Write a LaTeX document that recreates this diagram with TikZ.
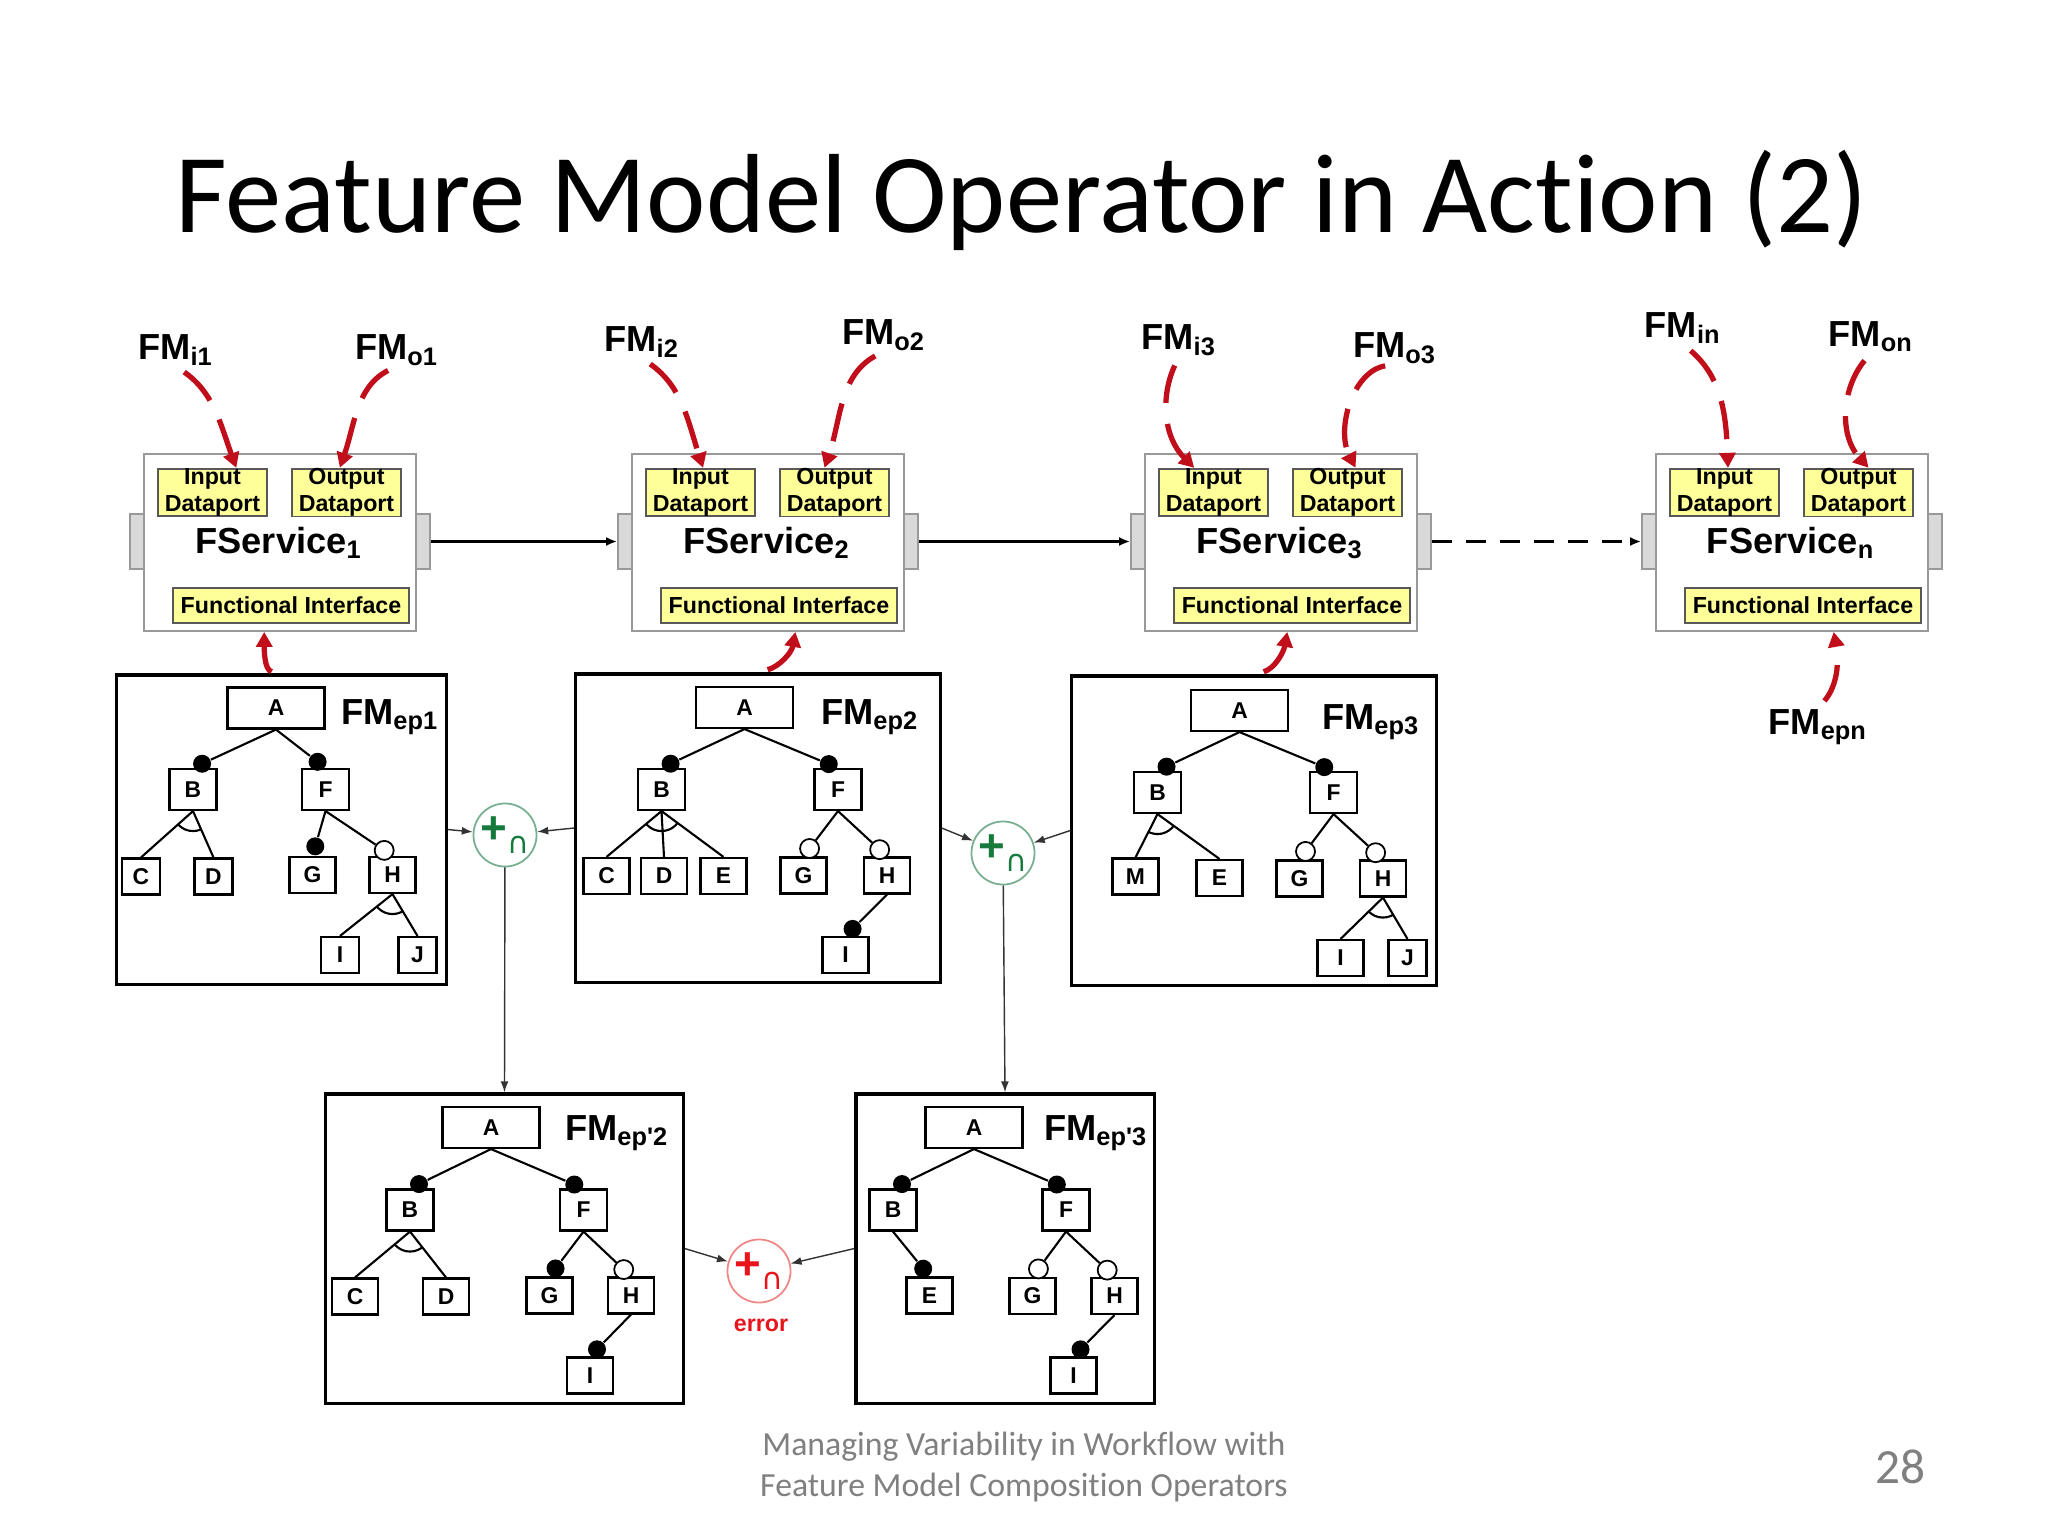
\documentclass[tikz,border=0pt]{standalone}
\usepackage{fontspec}
\setmainfont{Liberation Sans}
\newfontfamily\slidefont[Ligatures=NoCommon]{Carlito}
\newfontfamily\opsymfont{DejaVu Sans}
\usetikzlibrary{arrows.meta, calc}

\definecolor{portyellow}{RGB}{255,255,153}
\definecolor{fmred}{RGB}{192,14,26}
\definecolor{opgreen}{RGB}{22,122,60}
\definecolor{opgreenline}{RGB}{120,175,145}
\definecolor{opred}{RGB}{232,20,28}
\definecolor{opredline}{RGB}{240,135,135}
\definecolor{footgray}{RGB}{128,128,128}

\tikzset{
  svc/.style={
    rectangle,
    draw=black!40,
    fill=white,
    line width=0.5pt,
    minimum width=2.72cm,
    minimum height=1.77cm,
    inner sep=0
  },
  svctab/.style={
    rectangle,
    draw=black!40,
    fill=black!15,
    line width=0.5pt,
    minimum width=0.14cm,
    minimum height=0.55cm,
    inner sep=0
  },
  port/.style={
    rectangle,
    draw=black!65,
    fill=portyellow,
    line width=0.5pt,
    minimum width=1.09cm,
    minimum height=0.47cm,
    inner sep=0,
    align=center,
    font=\fontsize{6.6}{7.6}\selectfont\bfseries
  },
  iface/.style={port, minimum width=2.36cm, minimum height=0.35cm},
  svcname/.style={font=\fontsize{10.3}{12}\selectfont\bfseries, inner sep=0},
  fmlabel/.style={font=\fontsize{10.3}{12}\selectfont\bfseries, inner sep=0},
  fmbox/.style={rectangle, draw, line width=0.9pt, inner sep=0},
  feat/.style={
    rectangle,
    draw,
    fill=white,
    line width=0.6pt,
    minimum width=0.46cm,
    minimum height=0.36cm,
    inner sep=0,
    font=\fontsize{6.5}{7}\selectfont\bfseries
  },
  narrowfeat/.style={feat, minimum width=0.38cm},
  midfeat/.style={feat, minimum width=0.47cm, minimum height=0.41cm},
  rootfeat/.style={feat, minimum width=0.97cm, minimum height=0.41cm},
  mand/.style={circle, fill=black, inner sep=0, minimum size=1.8mm},
  opt/.style={circle, draw, fill=white, line width=0.5pt, inner sep=0, minimum size=1.9mm},
  tree/.style={line width=0.6pt},
  fmarrow/.style={-{Triangle[length=1.5mm, width=1.6mm]}, draw=fmred, line width=1.5pt, dash pattern=on 11pt off 6pt, shorten <=1mm},
  flow/.style={-{Latex[length=1.1mm, width=0.9mm]}, line width=0.8pt},
  opnode/.style={circle, draw=opgreenline, text=opgreen, line width=0.5pt, minimum size=0.63cm, inner sep=0},
  errnode/.style={opnode, draw=opredline, text=opred},
  oparrow/.style={-{Latex[length=1.1mm, width=0.8mm]}, draw=black!80, line width=0.4pt}
}

\begin{document}
\begin{tikzpicture}[x=0.01cm,y=-0.01cm]
\fill[white] (0,0) rectangle (2048,1536);
\useasboundingbox (0,0) rectangle (2048,1536);

\node[font=\slidefont\fontsize{32}{38}\selectfont, anchor=base] (title) at (1022,232) {Feature Model Operator in Action (2)};

% services
\node[svc] (fs1) at (280,542.5) {};
\node[svctab] (fs1-l) at (137,541.5) {};
\node[svctab] (fs1-r) at (423,541.5) {};
\node[port] (fs1-in) at (212.5,492.5) {Input\\Dataport};
\node[port] (fs1-out) at (346.5,492.5) {Output\\Dataport};
\node[svcname] (fs1-t) at (279,543) {FService\textsubscript{1}};
\node[iface] (fs1-fi) at (291,605.5) {Functional Interface};

\node[svc] (fs2) at (768,542.5) {};
\node[svctab] (fs2-l) at (625,541.5) {};
\node[svctab] (fs2-r) at (911,541.5) {};
\node[port] (fs2-in) at (700.5,492.5) {Input\\Dataport};
\node[port] (fs2-out) at (834.5,492.5) {Output\\Dataport};
\node[svcname] (fs2-t) at (767,543) {FService\textsubscript{2}};
\node[iface] (fs2-fi) at (779,605.5) {Functional Interface};

\node[svc] (fs3) at (1281,542.5) {};
\node[svctab] (fs3-l) at (1138,541.5) {};
\node[svctab] (fs3-r) at (1424,541.5) {};
\node[port] (fs3-in) at (1213.5,492.5) {Input\\Dataport};
\node[port] (fs3-out) at (1347.5,492.5) {Output\\Dataport};
\node[svcname] (fs3-t) at (1280,543) {FService\textsubscript{3}};
\node[iface] (fs3-fi) at (1292,605.5) {Functional Interface};

\node[svc] (fsn) at (1792,542.5) {};
\node[svctab] (fsn-l) at (1649,541.5) {};
\node[svctab] (fsn-r) at (1935,541.5) {};
\node[port] (fsn-in) at (1724.5,492.5) {Input\\Dataport};
\node[port] (fsn-out) at (1858.5,492.5) {Output\\Dataport};
\node[svcname] (fsn-t) at (1791,543) {FService\textsubscript{n}};
\node[iface] (fsn-fi) at (1803,605.5) {Functional Interface};

\draw[flow] (fs1-r) -- (fs2-l);
\draw[flow] (fs2-r) -- (fs3-l);
\draw[flow, dash pattern=on 0.2cm off 0.14cm] (fs3-r) -- (fsn-l);

% dataport models
\node[fmlabel] (fmi1) at (176,350) {FM\textsubscript{i1}};
\node[fmlabel] (fmo1) at (397,350) {FM\textsubscript{o1}};
\node[fmlabel] (fmi2) at (642,342) {FM\textsubscript{i2}};
\node[fmlabel] (fmo2) at (884,335) {FM\textsubscript{o2}};
\node[fmlabel] (fmi3) at (1179,340) {FM\textsubscript{i3}};
\node[fmlabel] (fmo3) at (1395,348) {FM\textsubscript{o3}};
\node[fmlabel] (fmin) at (1683,328) {FM\textsubscript{in}};
\node[fmlabel] (fmon) at (1871,337) {FM\textsubscript{on}};
\node[fmlabel] (fmepn) at (1818,727) {FM\textsubscript{epn}};

\draw[fmarrow] (fmi1.south) to[out=-35,in=110] (fs1-in.46);
\draw[fmarrow] (fmo1.south) to[out=207,in=71] (fs1-out.105);
\draw[fmarrow] (fmi2.south) to[out=-35,in=108] (fs2-in.84);
\draw[fmarrow] (fmo2.south) to[out=209,in=71] (fs2-out.112);
\draw[fmarrow] (fmi3.south) to[out=-115,in=135] (fs3-in.128);
\draw[fmarrow] (fmo3.south) to[out=190,in=117] (fs3-out.72);
\draw[fmarrow] (fmin.south) to[out=-40,in=92] (fsn-in.82);
\draw[fmarrow] (fmon.south) to[out=230,in=132] (fsn-out.68);
\draw[fmarrow] (fmepn.north) to[out=50,in=-80] (fsn.-65);

% FM_ep1
\node[fmbox, minimum width=3.29cm, minimum height=3.09cm] (ep1) at (281.5,829.5) {};
\node[fmlabel] (ep1-lbl) at (390,717) {FM\textsubscript{ep1}};
\node[rootfeat] (p1a) at (276,708) {A};
\node[midfeat] (p1b) at (193,789.5) {B};
\node[midfeat] (p1f) at (325.5,789.5) {F};
\node[narrowfeat] (p1c) at (141,876.5) {C};
\node[narrowfeat] (p1d) at (213.5,876.5) {D};
\node[feat] (p1g) at (312.5,875) {G};
\node[feat] (p1h) at (392.5,875) {H};
\node[narrowfeat] (p1i) at (340,955) {I};
\node[narrowfeat] (p1j) at (417.5,955) {J};
\node[mand] (p1bm) at ($(p1b.north)!1mm!(p1a.south)$) {};
\node[mand] (p1fm) at ($(p1f.north)!1mm!(p1a.south)$) {};
\node[mand] (p1gm) at ($(p1g.north)!1mm!(p1f.south)$) {};
\node[opt] (p1ho) at ($(p1h.north)!1mm!(p1f.south)$) {};
\draw[tree] (p1a.south) -- (p1bm) (p1a.south) -- (p1fm) (p1f.south) -- (p1gm) (p1f.south) -- (p1ho);
\draw[tree] (p1b.south) -- (p1c.north) (p1b.south) -- (p1d.north) (p1h.south) -- (p1i.north) (p1h.south) -- (p1j.north);
\begin{scope} \clip (p1b.south) -- (p1c.north) -- (p1d.north) -- cycle; \draw[tree] (p1b.south) circle[radius=20]; \end{scope}
\begin{scope} \clip (p1h.south) -- (p1i.north) -- (p1j.north) -- cycle; \draw[tree] (p1h.south) circle[radius=20]; \end{scope}

% FM_ep2
\node[fmbox, minimum width=3.64cm, minimum height=3.08cm] (ep2) at (758,828) {};
\node[fmlabel] (ep2-lbl) at (870,717) {FM\textsubscript{ep2}};
\node[rootfeat] (p2a) at (744.5,707.5) {A};
\node[midfeat] (p2b) at (661.5,789.5) {B};
\node[midfeat] (p2f) at (838,789.5) {F};
\node[feat] (p2c) at (606.5,876) {C};
\node[feat] (p2d) at (664,876) {D};
\node[feat] (p2e) at (723.5,876) {E};
\node[feat] (p2g) at (803.5,875.5) {G};
\node[feat] (p2h) at (887,875.5) {H};
\node[feat] (p2i) at (845.5,955) {I};
\node[mand] (p2bm) at ($(p2b.north)!1mm!(p2a.south)$) {};
\node[mand] (p2fm) at ($(p2f.north)!1mm!(p2a.south)$) {};
\node[opt] (p2go) at ($(p2g.north)!1mm!(p2f.south)$) {};
\node[opt] (p2ho) at ($(p2h.north)!1mm!(p2f.south)$) {};
\node[mand] (p2im) at ($(p2i.north)!1mm!(p2h.south)$) {};
\draw[tree] (p2a.south) -- (p2bm) (p2a.south) -- (p2fm) (p2f.south) -- (p2go) (p2f.south) -- (p2ho) (p2h.south) -- (p2im);
\draw[tree] (p2b.south) -- (p2c.north) (p2b.south) -- (p2d.north) (p2b.south) -- (p2e.north);
\begin{scope} \clip (p2b.south) -- (p2c.north) -- (p2e.north) -- cycle; \draw[tree] (p2b.south) circle[radius=20]; \end{scope}

% FM_ep3
\node[fmbox, minimum width=3.64cm, minimum height=3.09cm] (ep3) at (1254,830.5) {};
\node[fmlabel] (ep3-lbl) at (1371,722) {FM\textsubscript{ep3}};
\node[rootfeat] (p3a) at (1239.5,710.5) {A};
\node[midfeat] (p3b) at (1157.5,792.5) {B};
\node[midfeat] (p3f) at (1333.5,792.5) {F};
\node[feat] (p3m) at (1135.5,876.5) {M};
\node[feat] (p3e) at (1219.5,878) {E};
\node[feat] (p3g) at (1299.5,878.5) {G};
\node[feat] (p3h) at (1383,878.5) {H};
\node[feat] (p3i) at (1340.5,958) {I};
\node[narrowfeat] (p3j) at (1407.5,958) {J};
\node[mand] (p3bm) at ($(p3b.north)!1mm!(p3a.south)$) {};
\node[mand] (p3fm) at ($(p3f.north)!1mm!(p3a.south)$) {};
\node[opt] (p3go) at ($(p3g.north)!1mm!(p3f.south)$) {};
\node[opt] (p3ho) at ($(p3h.north)!1mm!(p3f.south)$) {};
\draw[tree] (p3a.south) -- (p3bm) (p3a.south) -- (p3fm) (p3f.south) -- (p3go) (p3f.south) -- (p3ho);
\draw[tree] (p3b.south) -- (p3m.north) (p3b.south) -- (p3e.north) (p3h.south) -- (p3i.north) (p3h.south) -- (p3j.north);
\begin{scope} \clip (p3b.south) -- (p3m.north) -- (p3e.north) -- cycle; \draw[tree] (p3b.south) circle[radius=20]; \end{scope}
\begin{scope} \clip (p3h.south) -- (p3i.north) -- (p3j.north) -- cycle; \draw[tree] (p3h.south) circle[radius=20]; \end{scope}

% FM_ep'2
\node[fmbox, minimum width=3.57cm, minimum height=3.09cm] (q2) at (504.5,1248.5) {};
\node[fmlabel] (q2-lbl) at (617,1133) {FM\textsubscript{ep\textquotesingle 2}};
\node[rootfeat] (q2a) at (491,1127.5) {A};
\node[midfeat] (q2b) at (410,1210) {B};
\node[midfeat] (q2f) at (583.5,1210) {F};
\node[feat] (q2c) at (355,1296.5) {C};
\node[feat] (q2d) at (446,1296.5) {D};
\node[feat] (q2g) at (549.5,1295.5) {G};
\node[feat] (q2h) at (631,1295.5) {H};
\node[feat] (q2i) at (590,1375.5) {I};
\node[mand] (q2bm) at ($(q2b.north)!1mm!(q2a.south)$) {};
\node[mand] (q2fm) at ($(q2f.north)!1mm!(q2a.south)$) {};
\node[mand] (q2gm) at ($(q2g.north)!1mm!(q2f.south)$) {};
\node[opt] (q2ho) at ($(q2h.north)!1mm!(q2f.south)$) {};
\node[mand] (q2im) at ($(q2i.north)!1mm!(q2h.south)$) {};
\draw[tree] (q2a.south) -- (q2bm) (q2a.south) -- (q2fm) (q2f.south) -- (q2gm) (q2f.south) -- (q2ho) (q2h.south) -- (q2im);
\draw[tree] (q2b.south) -- (q2c.north) (q2b.south) -- (q2d.north);
\begin{scope} \clip (q2b.south) -- (q2c.north) -- (q2d.north) -- cycle; \draw[tree] (q2b.south) circle[radius=20]; \end{scope}

% FM_ep'3
\node[fmbox, minimum width=2.98cm, minimum height=3.09cm] (q3) at (1005,1248.5) {};
\node[fmlabel] (q3-lbl) at (1096,1133) {FM\textsubscript{ep\textquotesingle 3}};
\node[rootfeat] (q3a) at (974,1127.5) {A};
\node[midfeat] (q3b) at (893,1210) {B};
\node[midfeat] (q3f) at (1066,1210) {F};
\node[feat] (q3e) at (929.5,1295.5) {E};
\node[feat] (q3g) at (1032.5,1296) {G};
\node[feat] (q3h) at (1114.5,1296) {H};
\node[feat] (q3i) at (1073.5,1375.5) {I};
\node[mand] (q3bm) at ($(q3b.north)!1mm!(q3a.south)$) {};
\node[mand] (q3fm) at ($(q3f.north)!1mm!(q3a.south)$) {};
\node[mand] (q3em) at ($(q3e.north)!1mm!(q3b.south)$) {};
\node[opt] (q3go) at ($(q3g.north)!1mm!(q3f.south)$) {};
\node[opt] (q3ho) at ($(q3h.north)!1mm!(q3f.south)$) {};
\node[mand] (q3im) at ($(q3i.north)!1mm!(q3h.south)$) {};
\draw[tree] (q3a.south) -- (q3bm) (q3a.south) -- (q3fm) (q3b.south) -- (q3em) (q3f.south) -- (q3go) (q3f.south) -- (q3ho) (q3h.south) -- (q3im);

% models to functional interfaces
\draw[fmarrow] (ep1.north) to[out=170,in=-90] (fs1.-100);
\draw[fmarrow] (ep2.north) to[out=15,in=-100] (fs2.-73);
\draw[fmarrow] (ep3.north) to[out=15,in=-100] (fs3.-86);

% composition operators
\node[opnode] (op1) at (505,835) {{\fontsize{13}{14}\selectfont\bfseries +}\raisebox{-0.5ex}{\opsymfont\fontsize{8.5}{9}\selectfont ∩}};
\node[opnode] (op2) at (1003,853) {{\fontsize{13}{14}\selectfont\bfseries +}\raisebox{-0.5ex}{\opsymfont\fontsize{8.5}{9}\selectfont ∩}};
\node[errnode] (op3) at (759,1271) {{\fontsize{13}{14}\selectfont\bfseries +}\raisebox{-0.5ex}{\opsymfont\fontsize{8.5}{9}\selectfont ∩}};
\node[font=\fontsize{6.6}{8}\selectfont\bfseries, text=opred] (err) at (761,1325) {error};

\draw[oparrow] (ep1.east) -- (op1);
\draw[oparrow] (ep2.west) -- (op1);
\draw[oparrow] (op1) -- (q2.north);
\draw[oparrow] (ep2.east) -- (op2);
\draw[oparrow] (ep3.west) -- (op2);
\draw[oparrow] (op2) -- (q3.north);
\draw[oparrow] (q2.east) -- (op3);
\draw[oparrow] (q3.west) -- (op3);

\node[font=\slidefont\fontsize{9.6}{11.4}\selectfont, text=footgray, align=center] (footer) at (1024,1467) {Managing Variability in Workflow with\\Feature Model Composition Operators};
\node[font=\slidefont\fontsize{14}{16}\selectfont, text=footgray] (pagenum) at (1900,1467) {28};
\end{tikzpicture}
\end{document}
